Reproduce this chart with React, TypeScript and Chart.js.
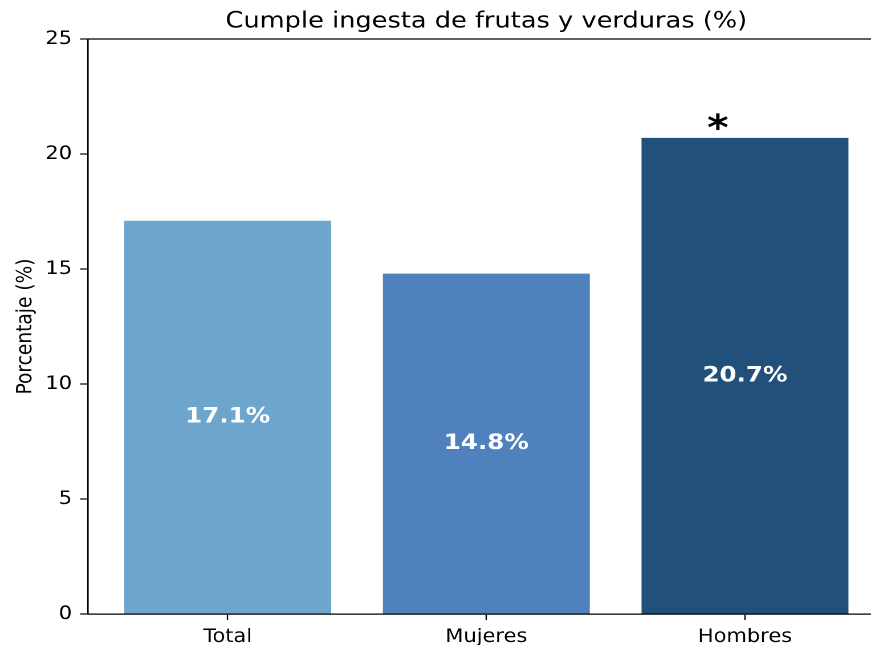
import React, { useEffect, useRef } from 'react';
import { Chart, registerables } from 'chart.js';

Chart.register(...registerables);

// ---- data ----
const categories: string[] = ['Total', 'Mujeres', 'Hombres'];
const values: number[] = [17.1, 14.8, 20.7];
const valueLabels: string[] = ['17.1%', '14.8%', '20.7%'];
const significance: string[] = ['', '', '*'];
const barColors: string[] = ['#6DA5CC', '#4F82BD', '#21507A'];
const yTicks: number[] = [0, 5, 10, 15, 20, 25];

const TITLE = 'Cumple ingesta de frutas y verduras (%)';
const Y_TITLE = 'Porcentaje (%)';

// ---- layout / style ----
const SX = 1.14; // horizontal stretch of the reference picture
const LOGICAL_W = 776;
const H = 645;
const FONT = "'DejaVu Sans', 'Liberation Sans', sans-serif";
const ASTERISK_DX = -0.105;

const spinesPlugin = {
  id: 'spines',
  afterDraw(chart: any) {
    const { ctx, chartArea } = chart;
    ctx.save();
    ctx.strokeStyle = '#000';
    ctx.lineWidth = 1.3;
    ctx.beginPath();
    ctx.moveTo(chartArea.left, chartArea.top);
    ctx.lineTo(chartArea.right + 10, chartArea.top);
    ctx.stroke();
    ctx.restore();
  },
};

const labelsPlugin = {
  id: 'barLabels',
  afterDatasetsDraw(chart: any) {
    const { ctx } = chart;
    const meta = chart.getDatasetMeta(0);
    const xScale = chart.scales.x;
    ctx.save();
    meta.data.forEach((el: any, i: number) => {
      const midY = (el.y + el.base) / 2;
      ctx.fillStyle = '#ffffff';
      ctx.font = `bold 21.5px ${FONT}`;
      ctx.textAlign = 'center';
      ctx.textBaseline = 'middle';
      ctx.fillText(valueLabels[i], el.x, midY);
      if (significance[i]) {
        ctx.fillStyle = '#000000';
        ctx.font = `bold 36px ${FONT}`;
        ctx.textBaseline = 'alphabetic';
        const ax = xScale.getPixelForValue(i + ASTERISK_DX);
        ctx.fillText(significance[i], ax, el.y + 2);
      }
    });
    ctx.restore();
  },
};

export default function App() {
  const canvasRef = useRef<HTMLCanvasElement | null>(null);

  useEffect(() => {
    if (!canvasRef.current) return;
    const chart = new Chart(canvasRef.current, {
      type: 'bar',
      data: {
        datasets: [
          {
            data: values.map((v, i) => ({ x: i, y: v })) as any,
            backgroundColor: barColors,
            borderWidth: 0,
            barPercentage: 0.8,
            categoryPercentage: 1.0,
          },
        ],
      },
      options: {
        responsive: true,
        maintainAspectRatio: false,
        animation: false,
        devicePixelRatio: 2,
        layout: { padding: 0 },
        plugins: {
          legend: { display: false },
          tooltip: { enabled: false },
          title: {
            display: true,
            text: TITLE,
            color: '#000',
            fullSize: false,
            font: { family: FONT, size: 22.5, weight: 'normal' as any, lineHeight: 1.2 },
            padding: { top: 8, bottom: 4 },
          },
        },
        scales: {
          x: {
            type: 'linear',
            min: -0.54,
            max: 2.54,
            offset: false,
            afterBuildTicks: (s: any) => {
              s.ticks = categories.map((_, i) => ({ value: i }));
            },
            afterFit: (s: any) => {
              s.height = 31;
            },
            ticks: {
              autoSkip: false,
              maxRotation: 0,
              color: '#000',
              padding: 6,
              font: { family: FONT, size: 18.4 },
              callback: (v: any) => categories[v as number] ?? '',
            },
            grid: {
              display: true,
              offset: false,
              drawOnChartArea: false,
              drawTicks: true,
              tickLength: 6,
              tickColor: '#000',
              tickWidth: 1.2,
            },
            border: { display: true, color: '#000', width: 1.3 },
          },
          y: {
            min: 0,
            max: 25,
            afterBuildTicks: (s: any) => {
              s.ticks = yTicks.map((v) => ({ value: v }));
            },
            afterFit: (s: any) => {
              s.width = 77.2;
            },
            ticks: {
              color: '#000',
              padding: 7,
              font: { family: FONT, size: 18.4 },
            },
            grid: {
              display: true,
              drawOnChartArea: false,
              drawTicks: true,
              tickLength: 7,
              tickColor: '#000',
              tickWidth: 1.2,
            },
            border: { display: true, color: '#000', width: 1.3 },
            title: {
              display: true,
              text: Y_TITLE,
              color: '#000',
              font: { family: FONT, size: 18.6, lineHeight: 1.2 },
              padding: { top: 11.5, bottom: 0 },
            },
          },
        },
      },
      plugins: [spinesPlugin, labelsPlugin],
    });
    return () => chart.destroy();
  }, []);

  return (
    <div
      style={{
        position: 'fixed',
        left: 0,
        top: 0,
        width: 871,
        height: H,
        overflow: 'hidden',
        background: '#fff',
      }}
    >
      <div
        style={{
          width: LOGICAL_W,
          height: H,
          transform: `scale(${SX}, 1)`,
          transformOrigin: '0 0',
          position: 'relative',
        }}
      >
        <canvas ref={canvasRef} style={{ display: 'block' }} />
      </div>
    </div>
  );
}
